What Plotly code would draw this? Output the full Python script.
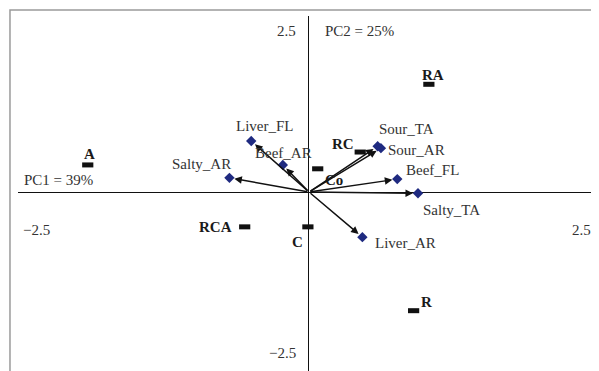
import plotly.graph_objects as go

# Samples (scores)
samples = ["A", "RA", "RC", "Co", "RCA", "C", "R"]
sample_pc1 = [-2.03, 1.10, 0.47, 0.08, -0.59, -0.01, 0.96]
sample_pc2 = [0.42, 1.67, 0.62, 0.36, -0.54, -0.54, -1.84]

# Variables (loadings)
variables = ["Liver_FL", "Beef_AR", "Salty_AR", "Sour_TA", "Sour_AR", "Beef_FL", "Salty_TA", "Liver_AR"]
var_pc1 = [-0.53, -0.24, -0.73, 0.63, 0.66, 0.81, 1.00, 0.49]
var_pc2 = [0.79, 0.42, 0.22, 0.71, 0.68, 0.20, -0.02, -0.70]

tick_vals = [-2.5, 2.5]
tick_text = ["\u22122.5", "2.5"]
pc1_label = "PC1 = 39%"
pc2_label = "PC2 = 25%"

# label offsets in pixels (styling)
sample_shift = [(2, 11), (4, 9), (-17, 8), (16, -11), (-29, 0), (-10, -15), (13, 9)]
var_shift = [(14, 15), (1, 12), (-28, 14), (29, 17), (36, -2), (35, 9), (34, -17), (43, -6)]

font_family = "'Times New Roman', 'Liberation Serif', serif"
FS = 15

fig = go.Figure()

fig.add_trace(go.Scatter(
    x=sample_pc1, y=sample_pc2, mode="markers",
    marker=dict(symbol="line-ew", size=8, line=dict(width=5, color="#111111")),
    hoverinfo="skip", showlegend=False))

fig.add_trace(go.Scatter(
    x=var_pc1, y=var_pc2, mode="markers",
    marker=dict(symbol="diamond", size=8, color="#1F2A80"),
    hoverinfo="skip", showlegend=False))

annotations = []
for vx, vy in zip(var_pc1, var_pc2):
    annotations.append(dict(
        x=vx, y=vy, ax=0, ay=0, axref="x", ayref="y", xref="x", yref="y",
        text="", showarrow=True, arrowhead=2, arrowsize=1, arrowwidth=1.5,
        arrowcolor="#111111", standoff=5))

for name, sx, sy, (dx, dy) in zip(samples, sample_pc1, sample_pc2, sample_shift):
    annotations.append(dict(
        x=sx, y=sy, xref="x", yref="y", text="<b>%s</b>" % name, showarrow=False,
        xshift=dx, yshift=dy, font=dict(family=font_family, size=FS, color="#1a1a1a")))

for name, vx, vy, (dx, dy) in zip(variables, var_pc1, var_pc2, var_shift):
    annotations.append(dict(
        x=vx, y=vy, xref="x", yref="y", text=name, showarrow=False,
        xshift=dx, yshift=dy, font=dict(family=font_family, size=FS, color="#333333")))

# axis value labels
for tv, tt in zip(tick_vals, tick_text):
    annotations.append(dict(
        x=tv, y=0, xref="x", yref="y", text=tt, showarrow=False,
        yshift=-38, font=dict(family=font_family, size=FS, color="#333333")))
    annotations.append(dict(
        x=0, y=tv, xref="x", yref="y", text=tt, showarrow=False,
        xanchor="right", xshift=-11, font=dict(family=font_family, size=FS, color="#333333")))

annotations.append(dict(
    x=-2.63, y=0, xref="x", yref="y", text=pc1_label, showarrow=False,
    xanchor="left", yshift=12, font=dict(family=font_family, size=FS, color="#333333")))
annotations.append(dict(
    x=0, y=2.5, xref="x", yref="y", text=pc2_label, showarrow=False,
    xanchor="left", xshift=14, font=dict(family=font_family, size=FS, color="#333333")))

# The page body has an 8px margin, so the figure is sized/offset to compensate.
fig.update_layout(
    width=591, height=363,
    margin=dict(l=10, r=0, t=8, b=0),
    paper_bgcolor="white", plot_bgcolor="white",
    annotations=annotations,
    xaxis=dict(range=[-2.670, 2.661], showgrid=False, showticklabels=False, ticks="",
               zeroline=True, zerolinecolor="#111111", zerolinewidth=1, fixedrange=True),
    yaxis=dict(range=[-2.775, 2.729], showgrid=False, showticklabels=False, ticks="",
               zeroline=True, zerolinecolor="#111111", zerolinewidth=1, fixedrange=True),
    shapes=[dict(type="rect", xref="paper", yref="paper",
                 x0=-0.0138, x1=1.2, y0=-0.2, y1=1.0169,
                 line=dict(color="#9a9a9a", width=1.5))],
)

fig.write_html("out.html", config={"displayModeBar": False})
